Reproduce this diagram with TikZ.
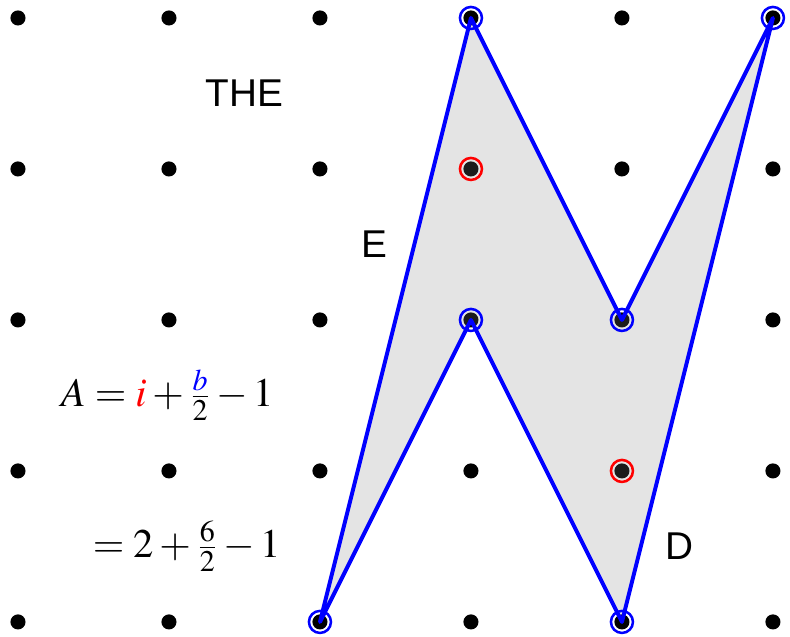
\documentclass[tikz,border=0pt]{standalone}
\usepackage{mathptmx}
\usepackage[no-math]{fontspec}
\setsansfont{Liberation Sans}
\begin{document}
\begin{tikzpicture}[
    x=2cm,
    y=2cm,
    punto/.style={fill=black},
    region/.style={fill=gray, fill opacity=0.21},
    borde/.style={draw=blue, line width=1.5pt, line join=round},
    frontera/.style={draw=blue, line width=0.95pt},
    interior/.style={draw=red, line width=0.95pt},
    rotulo/.style={font=\sffamily\fontsize{14.6}{17}\selectfont},
    formula/.style={font=\fontsize{15.3}{18}\selectfont}
]
\useasboundingbox (-0.119,-0.099) rectangle (5.113,4.119);

% Reticulado de puntos
\foreach \x in {0,...,5}
    \foreach \y in {0,...,4}
    {
        \coordinate (p\x\y) at (\x,\y);
        \fill[punto] (p\x\y) circle (0.05);
    }

% Poligono
\fill[region] (p20) -- (p34) -- (p42) -- (p54) -- (p40) -- (p32) -- cycle;
\draw[borde] (p20) -- (p34) -- (p42) -- (p54) -- (p40) -- (p32) -- cycle;

% Puntos de la frontera e interiores
\foreach \p in {p20,p34,p42,p54,p40,p32}
    \draw[frontera] (\p) circle (0.073);
\foreach \p in {p33,p41}
    \draw[interior] (\p) circle (0.073);

% Textos
\node[rotulo] (the) at (1.5,3.5) {THE};
\node[rotulo] (e) at (2.36,2.5) {E};
\node[rotulo] (d) at (4.38,0.5) {D};
\node[formula] (pick) at (0.99,1.5)
    {$A=\textcolor{red}{i}+\frac{\textcolor{blue}{b}}{2}-1$};
\node[formula] (valor) at (1.12,0.5) {$=2+\frac{6}{2}-1$};

\end{tikzpicture}
\end{document}
